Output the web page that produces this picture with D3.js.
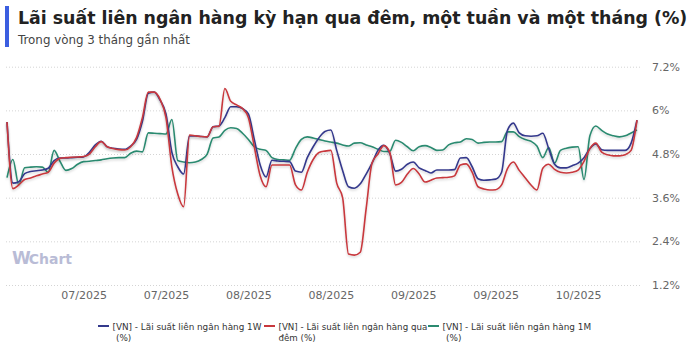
<!DOCTYPE html>
<html><head><meta charset="utf-8">
<script src="https://cdn.jsdelivr.net/npm/d3@7/dist/d3.min.js"></script>
<style>body{margin:0;background:#fff}svg{display:block;font-family:"DejaVu Sans",sans-serif}</style>
</head><body>
<svg id="c" width="700" height="356"></svg>
<script>
const titleText = "Lãi suất liên ngân hàng kỳ hạn qua đêm, một tuần và một tháng (%)";
const subtitleText = "Trong vòng 3 tháng gần nhất";
const startDate = "2025-06-30";
const tickDates = ["2025-07-13","2025-07-27","2025-08-10","2025-08-24","2025-09-07","2025-09-21","2025-10-05"];
const tickLabels = ["07/2025","07/2025","08/2025","08/2025","09/2025","09/2025","10/2025"];
const yTicks = [1.2, 2.4, 3.6, 4.8, 6, 7.2];
const yTickLabels = ["1.2%","2.4%","3.6%","4.8%","6%","7.2%"];
const seriesNames = [
  ["[VN] - Lãi suất liên ngân hàng 1W", "(%)"],
  ["[VN] - Lãi suất liên ngân hàng qua", "đêm (%)"],
  ["[VN] - Lãi suất liên ngân hàng 1M", "(%)"]
];
const seriesColors = ["#34398c", "#c8383d", "#2b8a70"];

const rate1W = [5.68,4.0,4.04,4.26,4.32,4.34,4.36,4.41,4.62,4.69,
4.69,4.7,4.71,4.72,4.85,5.05,5.15,5.0,4.96,4.94,
4.93,5.02,5.2,5.7,6.47,6.5,6.28,5.9,4.85,4.45,
4.25,5.3,5.3,5.28,5.27,5.55,5.57,5.8,6.1,6.1,
6.05,5.9,5.2,4.5,4.17,4.63,4.61,4.6,4.59,4.33,
4.3,4.7,5.0,5.25,5.42,5.46,4.9,4.35,3.9,3.86,
3.98,4.25,4.55,4.9,5.04,4.82,4.33,4.38,4.52,4.58,
4.42,4.35,4.28,4.36,4.36,4.36,4.37,4.69,4.7,4.45,
4.12,4.08,4.09,4.11,4.3,5.45,5.65,5.38,5.3,5.29,
5.3,5.37,4.95,4.52,4.42,4.42,4.48,4.55,4.7,4.95,
5.08,4.92,4.9,4.9,4.9,4.9,5.1,5.73];

const rateON = [5.68,3.85,3.95,4.1,4.14,4.2,4.25,4.3,4.55,4.68,
4.7,4.71,4.72,4.73,4.8,5.0,5.14,5.0,4.95,4.92,
4.91,5.0,5.25,5.8,6.5,6.5,6.3,5.8,4.45,3.7,
3.35,5.32,5.3,5.28,5.27,5.55,5.56,6.6,6.25,6.15,
6.05,5.8,5.0,4.2,3.9,4.5,4.5,4.5,4.5,3.95,
3.81,4.3,4.65,4.84,4.88,4.9,4.0,3.6,2.05,2.02,
2.1,3.3,4.55,4.8,5.03,4.85,3.95,4.02,4.25,4.4,
4.25,4.03,4.08,4.14,4.15,4.16,4.2,4.5,4.53,4.3,
3.9,3.84,3.81,3.82,3.95,4.4,4.58,4.35,4.15,3.95,
3.81,4.41,4.52,4.38,4.3,4.28,4.3,4.36,4.6,4.95,
5.1,4.85,4.78,4.75,4.75,4.78,4.9,5.73];

const rate1M = [4.15,4.65,3.95,4.42,4.44,4.45,4.44,4.3,4.9,4.6,
4.35,4.4,4.52,4.59,4.6,4.62,4.64,4.67,4.69,4.7,
4.7,4.82,4.88,4.86,5.38,5.37,5.36,5.35,5.75,4.62,
4.58,4.56,4.58,4.65,4.8,5.24,5.27,5.45,5.52,5.5,
5.37,5.2,5.0,4.93,4.9,4.7,4.65,4.64,4.63,4.95,
5.2,5.27,5.24,5.2,5.16,5.13,5.1,5.05,5.02,5.1,
5.11,5.05,5.0,4.93,4.87,4.87,5.18,5.12,5.0,4.89,
5.0,5.03,4.98,4.9,4.91,5.05,5.11,5.13,5.22,5.2,
5.1,5.12,5.13,5.13,5.14,5.41,5.41,5.28,5.2,5.15,
5.02,4.7,4.98,4.55,4.9,4.96,4.99,5.0,4.1,5.3,
5.57,5.45,5.35,5.3,5.27,5.3,5.38,5.46];

const svg = d3.select("#c");
const parse = d3.timeParse("%Y-%m-%d");
const start = parse(startDate);
const dates = rate1W.map((_, i) => d3.timeDay.offset(start, i));
const series = [rate1W, rateON, rate1M];

const x = d3.scaleTime().domain(d3.extent(dates)).range([7, 637]);
const y = d3.scaleLinear().domain([1.2, 7.2]).range([285, 66.7]);

function fit(sel, w) {
  const n = sel.node(); const cur = n.getComputedTextLength();
  const fs = parseFloat(sel.attr("font-size"));
  sel.attr("font-size", (fs * w / cur).toFixed(2));
}

// header
svg.append("rect").attr("x", 5).attr("y", 6).attr("width", 4).attr("height", 41).attr("fill", "#3b5ee0");
const t = svg.append("text").attr("x", 18).attr("y", 24).attr("font-size", 20).attr("font-weight", "bold")
  .attr("fill", "#222").text(titleText);
fit(t, 670);
const st = svg.append("text").attr("x", 18).attr("y", 44).attr("font-size", 12).attr("fill", "#444").text(subtitleText);
fit(st, 172);

// grid + y axis
const yAxis = d3.axisRight(y).tickValues(yTicks).tickSize(-635).tickPadding(12)
  .tickFormat((d, i) => yTickLabels[i]);
const gy = svg.append("g").attr("transform", "translate(640,0)").call(yAxis);
gy.select(".domain").remove();
gy.selectAll(".tick line").attr("stroke", "#d4d4d4").attr("stroke-dasharray", "1,2");
gy.selectAll(".tick text").attr("fill", "#666").attr("font-size", 11).attr("font-family", "DejaVu Sans, sans-serif");

// x axis
const xAxis = d3.axisBottom(x).tickValues(tickDates.map(parse)).tickSize(0).tickPadding(6)
  .tickFormat((d, i) => tickLabels[i]);
const gx = svg.append("g").attr("transform", "translate(0,285)").call(xAxis);
gx.select(".domain").remove();
gx.selectAll(".tick text").attr("fill", "#666").attr("font-size", 11).attr("font-family", "DejaVu Sans, sans-serif");

// watermark
const wm = svg.append("text").attr("x", 12).attr("y", 264).attr("font-weight", "bold").attr("fill", "#b9bcd6");
wm.append("tspan").attr("font-size", 17).text("W");
wm.append("tspan").attr("font-size", 14).attr("dx", -2).text("Chart");

// shadow
const defs = svg.append("defs");
const f = defs.append("filter").attr("id", "sh").attr("x", "-5%").attr("y", "-5%").attr("width", "110%").attr("height", "120%");
f.append("feDropShadow").attr("dx", 0).attr("dy", 1.5).attr("stdDeviation", 1).attr("flood-color", "#000").attr("flood-opacity", 0.18);

const line = d3.line().x((d, i) => x(dates[i])).y(d => y(d)).curve(d3.curveMonotoneX);
const drawOrder = [2, 0, 1];
drawOrder.forEach(k => {
  svg.append("path").datum(series[k]).attr("d", line).attr("fill", "none")
    .attr("stroke", seriesColors[k]).attr("stroke-width", 1.6).attr("filter", "url(#sh)");
});

// legend
const legX = [98, 264, 428];
const legendW = [149, 148, 0];
seriesNames.forEach((nm, k) => {
  const g = svg.append("g");
  g.append("line").attr("x1", legX[k]).attr("x2", legX[k] + 11).attr("y1", 326).attr("y2", 326)
    .attr("stroke", seriesColors[k]).attr("stroke-width", 2);
  const tx = g.append("text").attr("x", legX[k] + 14.5).attr("y", 330).attr("font-size", 11).attr("fill", "#333").text(nm[0]);
  fit(tx, 149);
  g.append("text").attr("x", legX[k] + (k === 1 ? 14.5 : 18)).attr("y", 341).attr("font-size", tx.attr("font-size")).attr("fill", "#333").text(nm[1]);
});
</script>
</body></html>
